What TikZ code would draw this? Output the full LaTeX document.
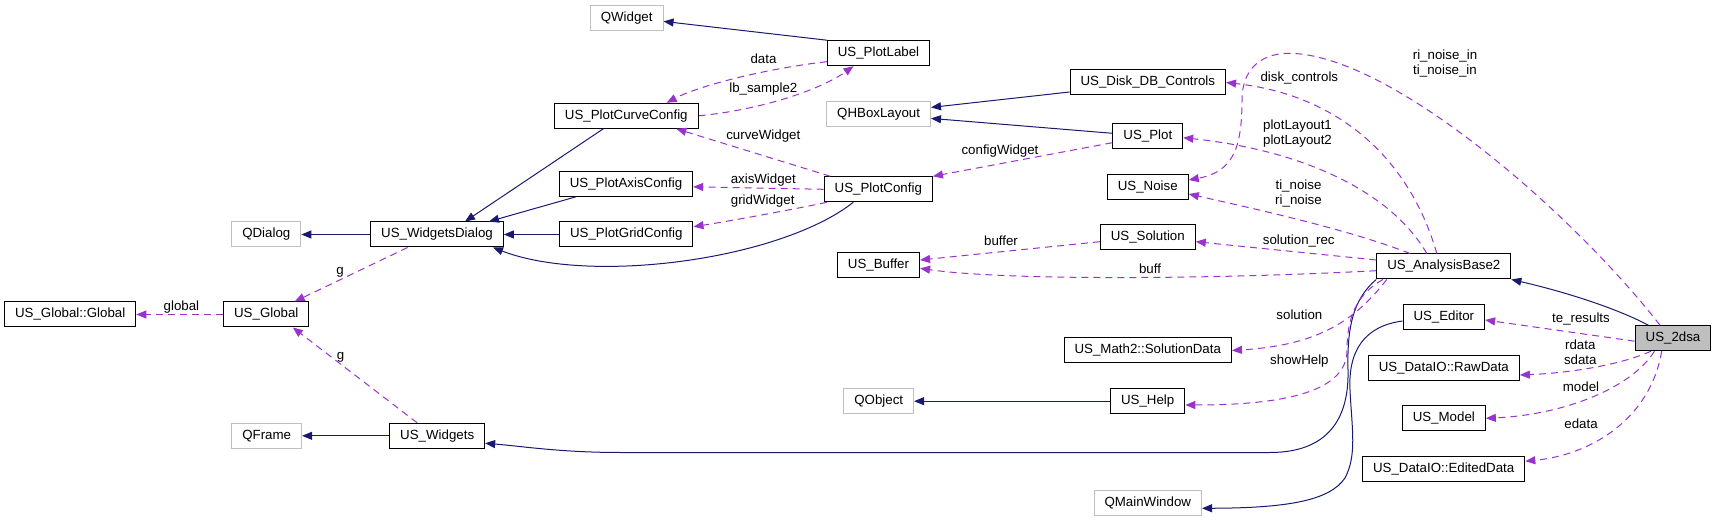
\documentclass[tikz,border=0pt]{standalone}
\usepackage{fontspec}
\setmainfont{Liberation Sans}
\usetikzlibrary{arrows.meta}
\definecolor{dxnavy}{HTML}{191970}
\definecolor{dxpurple}{HTML}{9A32CD}
\definecolor{dxgrey}{HTML}{BFBFBF}
\newcommand{\dxfont}{\fontsize{13.3}{15}\selectfont}

\begin{document}
\begin{tikzpicture}[x=1pt, y=-1pt,
	cls/.style={draw=black, line width=1pt, minimum height=25pt, inner xsep=10.5pt, inner ysep=0pt, font=\dxfont},
	ext/.style={cls, draw=dxgrey},
	inh/.style={draw=dxnavy, line width=1pt, -{Triangle[length=10pt,width=8pt]}},
	mbr/.style={draw=dxpurple, line width=1pt, dash pattern=on 7pt off 5pt, -{Triangle[length=10pt,width=8pt]}},
	lbl/.style={inner sep=0pt, align=center, font=\dxfont}]
		\useasboundingbox (0,0) rectangle (1717,521);

		\node[ext] (qwidget) at (626.7,18.4) {QWidget};
		\node[cls] (plabel) at (878.5,53.2) {US\_PlotLabel};
		\node[cls] (diskdb) at (1147.8,82.5) {US\_Disk\_DB\_Controls};
		\node[ext] (qhbox) at (878.6,114.4) {QHBoxLayout};
		\node[cls] (curvecfg) at (626.3,115.8) {US\_PlotCurveConfig};
		\node[cls] (uplot) at (1147.8,135.7) {US\_Plot};
		\node[cls] (axiscfg) at (626,183.8) {US\_PlotAxisConfig};
		\node[cls] (plotcfg) at (878.3,189.3) {US\_PlotConfig};
		\node[cls] (noise) at (1147.8,186.7) {US\_Noise};
		\node[ext] (qdialog) at (266.3,234.5) {QDialog};
		\node[cls] (wdialog) at (437,234.5) {US\_WidgetsDialog};
		\node[cls] (gridcfg) at (626.3,234.5) {US\_PlotGridConfig};
		\node[cls] (solution) at (1147.8,237.2) {US\_Solution};
		\node[cls] (buffer) at (878.5,265.5) {US\_Buffer};
		\node[cls] (ab2) at (1443.8,266.5) {US\_AnalysisBase2};
		\node[cls] (globglob) at (70.2,314.5) {US\_Global::Global};
		\node[cls] (global) at (266.3,314.5) {US\_Global};
		\node[cls] (editor) at (1443.8,317.3) {US\_Editor};
		\node[cls, fill=dxgrey] (tdsa) at (1673,338.2) {US\_2dsa};
		\node[cls] (soldata) at (1147.8,350.5) {US\_Math2::SolutionData};
		\node[cls] (rawdata) at (1443.8,367.8) {US\_DataIO::RawData};
		\node[ext] (qobject) at (878.7,401.2) {QObject};
		\node[cls] (help) at (1147.7,401.2) {US\_Help};
		\node[cls] (model) at (1443.8,418.3) {US\_Model};
		\node[ext] (qframe) at (266.7,435.8) {QFrame};
		\node[cls] (widgets) at (437.2,435.8) {US\_Widgets};
		\node[cls] (edited) at (1443.7,469.2) {US\_DataIO::EditedData};
		\node[ext] (qmain) at (1147.8,502.6) {QMainWindow};

		\draw[inh] (plabel.north west) -- ([yshift=-3pt]qwidget.east);
		\draw[inh] ([xshift=-23pt]curvecfg.south) -- ([xshift=28pt]wdialog.north);
		\draw[inh] ([xshift=-50pt]axiscfg.south) -- ([xshift=52pt]wdialog.north);
		\draw[inh] (gridcfg.west) -- (wdialog.east);
		\draw[inh] ([xshift=-25pt]plotcfg.south) .. controls (780,260) and (590,285) .. ([xshift=56pt]wdialog.south);
		\draw[inh] (wdialog.west) -- (qdialog.east);
		\draw[inh] ([yshift=-9.5pt]diskdb.west) -- ([yshift=7pt]qhbox.east);
		\draw[inh] ([yshift=2.4pt]uplot.west) -- ([yshift=-4pt]qhbox.east);
		\draw[inh] (help.west) -- (qobject.east);
		\draw[inh] (widgets.west) -- (qframe.east);
		\draw[inh] (ab2.south west) .. controls (1352,300) and (1347,330) .. (1348,370) .. controls (1349,410) and (1335,452.5) .. (1270,452.5) -- (620,452.5) .. controls (560,452.5) and (520,446) .. ([yshift=-7.5pt]widgets.east);
		\draw[inh] ([yshift=-3.7pt]editor.west) .. controls (1365,326) and (1348,350) .. (1350,390) .. controls (1352,430) and (1357,455) .. (1345,478) .. controls (1330,500) and (1290,508) .. ([yshift=-5.7pt]qmain.east);
		\draw[inh] ([xshift=-24.7pt]tdsa.north) .. controls (1620,310) and (1570,293) .. (ab2.south east);

		\draw[mbr] ([yshift=-8.5pt]plabel.west) .. controls (770,68) and (700,85) .. ([xshift=40.4pt]curvecfg.north);
		\draw[mbr] (curvecfg.east) .. controls (760,110) and (820,90) .. ([xshift=-25pt]plabel.south);
		\draw[mbr] ([xshift=-48pt]plotcfg.north) -- ([xshift=50pt]curvecfg.south);
		\draw[mbr] (plotcfg.west) -- ([yshift=-3pt]axiscfg.east);
		\draw[mbr] ([xshift=3.4pt]plotcfg.south west) .. controls (790,210) and (730,221) .. ([yshift=7.8pt]gridcfg.east);
		\draw[mbr] ([yshift=-7pt]uplot.west) -- (plotcfg.north east);
		\draw[mbr] ([yshift=-4.5pt]solution.west) -- ([yshift=5.5pt]buffer.east);
		\draw[mbr] ([yshift=-4.2pt]ab2.west) .. controls (1200,280) and (1000,280) .. ([yshift=-2.8pt]buffer.east);
		\draw[mbr] ([yshift=6.5pt]ab2.west) -- ([yshift=-4.5pt]solution.east);
		\draw[mbr] ([xshift=-33.8pt]ab2.north) .. controls (1350,230) and (1260,210) .. ([yshift=-7.3pt]noise.east);
		\draw[mbr] ([xshift=-17pt]ab2.north) .. controls (1390,190) and (1300,150) .. ([yshift=-2pt]uplot.east);
		\draw[mbr] ([xshift=-7pt]ab2.north) .. controls (1410,160) and (1340,95) .. (diskdb.east);
		\draw[mbr] ([xshift=-13pt]tdsa.north) .. controls (1570,210) and (1390,55) .. (1290,53.3) .. controls (1260,53) and (1242,70) .. (1242,100) .. controls (1242,150) and (1232,172) .. ([yshift=6.7pt]noise.east);
		\draw[mbr] ([yshift=-3pt]tdsa.west) -- ([yshift=-2.7pt]editor.east);
		\draw[mbr] ([xshift=-22pt]tdsa.south) .. controls (1620,365) and (1570,373) .. ([yshift=-7.2pt]rawdata.east);
		\draw[mbr] ([xshift=-18.5pt]tdsa.south) .. controls (1630,390) and (1560,415) .. (model.east);
		\draw[mbr] ([xshift=-11.3pt]tdsa.south) .. controls (1650,420) and (1590,455) .. ([yshift=8pt]edited.east);
		\draw[mbr] ([xshift=-57pt]ab2.south) .. controls (1355,320) and (1320,345) .. (soldata.east);
		\draw[mbr] ([xshift=-60.8pt]ab2.south) .. controls (1355,295) and (1347,320) .. (1347,350) .. controls (1347,390) and (1290,405) .. ([yshift=-3.8pt]help.east);
		\draw[mbr] ([xshift=-29.4pt]wdialog.south) -- ([xshift=28.4pt]global.north);
		\draw[mbr] (global.west) -- (globglob.east);
		\draw[mbr] ([xshift=-20pt]widgets.north) -- ([xshift=26.5pt]global.south);

		\node[lbl] (l-data) at (763.5,58.5) {data};
		\node[lbl] (l-sample) at (763.3,89) {lb\_sample2};
		\node[lbl] (l-curve) at (763.3,135.7) {curveWidget};
		\node[lbl] (l-axis) at (763.3,180) {axisWidget};
		\node[lbl] (l-grid) at (762.7,201) {gridWidget};
		\node[lbl] (l-config) at (1000,150.7) {configWidget};
		\node[lbl] (l-buffer) at (1001,240.7) {buffer};
		\node[lbl] (l-buff) at (1150,268.3) {buff};
		\node[lbl] (l-solrec) at (1298.7,240.7) {solution\_rec};
		\node[lbl] (l-noise) at (1298.5,193.7) {ti\_noise\\ri\_noise};
		\node[lbl] (l-layout) at (1297.5,133.7) {plotLayout1\\plotLayout2};
		\node[lbl] (l-disk) at (1299.3,78.3) {disk\_controls};
		\node[lbl] (l-noisein) at (1445,63.2) {ri\_noise\_in\\ti\_noise\_in};
		\node[lbl] (l-te) at (1581,319.3) {te\_results};
		\node[lbl] (l-rdata) at (1580.3,352) {rdata\\sdata};
		\node[lbl] (l-model) at (1581,386.7) {model};
		\node[lbl] (l-edata) at (1581,423.3) {edata};
		\node[lbl] (l-solution) at (1299.4,314.7) {solution};
		\node[lbl] (l-help) at (1299.4,360.7) {showHelp};
		\node[lbl] (l-g1) at (340,272.5) {g};
		\node[lbl] (l-global) at (181.4,306.7) {global};
		\node[lbl] (l-g2) at (340.6,357.3) {g};
	\end{tikzpicture}
\end{document}
